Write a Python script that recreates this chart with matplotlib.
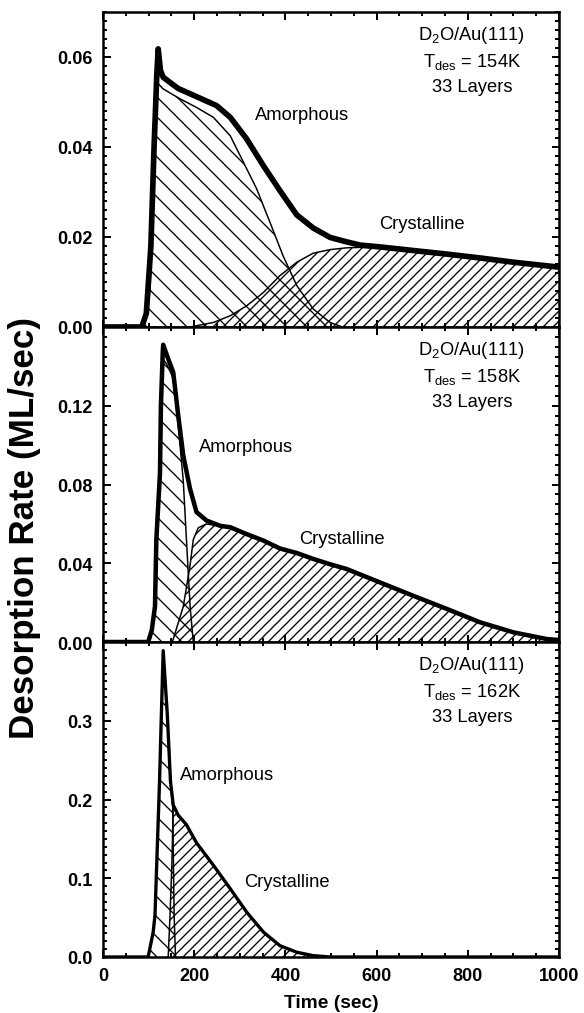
import matplotlib
matplotlib.use("Agg")
import matplotlib.pyplot as plt
from matplotlib.ticker import MultipleLocator, FormatStrFormatter

plt.rcParams['font.family'] = ['Liberation Sans', 'DejaVu Sans']
plt.rcParams['mathtext.fontset'] = 'custom'
plt.rcParams['mathtext.rm'] = 'Liberation Sans'
plt.rcParams['hatch.color'] = 'black'
plt.rcParams['hatch.linewidth'] = 0.8

# ---- panel 1: Tdes = 154K ----
t_tot1 = [0, 85, 95, 105, 112, 118, 121, 126, 132, 145, 165, 205, 249, 279, 315,
          352, 388, 425, 461, 498, 535, 564, 607, 680, 754, 830, 900, 1000]
v_tot1 = [0, 0, 0.003, 0.018, 0.040, 0.056, 0.0618, 0.057, 0.0555, 0.0545, 0.053,
          0.0512, 0.0492, 0.0466, 0.0418, 0.0358, 0.0303, 0.0249, 0.022, 0.0199,
          0.0189, 0.0182, 0.0178, 0.017, 0.0162, 0.0153, 0.0144, 0.0133]
t_am1 = [85, 95, 103, 110, 114, 117, 132, 169, 205, 242, 279, 308, 337, 366, 395,
         425, 461, 498, 525]
v_am1 = [0, 0.002, 0.008, 0.029, 0.044, 0.0545, 0.0529, 0.0507, 0.0488, 0.0466,
         0.0425, 0.0366, 0.0307, 0.0233, 0.0158, 0.0092, 0.004, 0.001, 0]
t_cr1 = [190, 242, 279, 315, 352, 388, 425, 461, 498, 535, 564, 607, 680, 754, 830,
         900, 1000]
v_cr1 = [0, 0.001, 0.0025, 0.0047, 0.0077, 0.0114, 0.0144, 0.0164, 0.0172, 0.0176,
         0.0177, 0.0176, 0.0169, 0.0161, 0.0152, 0.0143, 0.0132]

# ---- panel 2: Tdes = 158K ----
t_tot2 = [0, 99, 107, 114, 117, 125, 127, 131, 132, 143, 154, 165, 176, 191, 205,
          227, 257, 279, 315, 352, 388, 425, 461, 498, 534, 607, 680, 754, 827, 900,
          973, 1000]
v_tot2 = [0, 0, 0.006, 0.018, 0.052, 0.086, 0.12, 0.147, 0.151, 0.1438, 0.137,
          0.115, 0.0947, 0.0777, 0.066, 0.0617, 0.059, 0.0583, 0.0548, 0.0515,
          0.0475, 0.0452, 0.0422, 0.0395, 0.0371, 0.0303, 0.0235, 0.0168, 0.0100,
          0.0049, 0.0015, 0.001]
t_am2 = [99, 107, 114, 117, 125, 127, 131, 140, 154, 165, 176, 183, 191, 198]
v_am2 = [0, 0.006, 0.018, 0.052, 0.086, 0.12, 0.144, 0.141, 0.134, 0.11, 0.082,
         0.052, 0.018, 0]
t_cr2 = [152, 176, 191, 198, 209, 227, 257, 279, 315, 352, 388, 425, 461, 498, 534,
         607, 680, 754, 827, 900, 973, 1000]
v_cr2 = [0, 0.018, 0.039, 0.052, 0.058, 0.060, 0.0588, 0.0578, 0.0545, 0.0512,
         0.0473, 0.045, 0.042, 0.0393, 0.0369, 0.0301, 0.0233, 0.0166, 0.0099,
         0.0048, 0.0014, 0.0008]

# ---- panel 3: Tdes = 162K ----
t_tot3 = [0, 99, 110, 114, 119, 124, 128, 132, 141, 148, 154, 165, 183, 205, 242,
          279, 315, 352, 388, 425, 461, 498, 1000]
v_tot3 = [0, 0, 0.0315, 0.053, 0.138, 0.223, 0.308, 0.389, 0.308, 0.223, 0.193,
          0.18, 0.168, 0.145, 0.1166, 0.0868, 0.057, 0.0315, 0.0144, 0.006, 0.0017,
          0, 0]
t_am3 = [99, 110, 114, 119, 124, 128, 132, 141, 148, 153, 154, 156, 159]
v_am3 = [0, 0.0315, 0.053, 0.138, 0.223, 0.308, 0.385, 0.305, 0.22, 0.19, 0.138,
         0.053, 0]
t_cr3 = [143, 147, 151, 154, 165, 183, 205, 242, 279, 315, 352, 388, 425, 461, 498]
v_cr3 = [0, 0.053, 0.117, 0.193, 0.18, 0.168, 0.145, 0.1166, 0.0868, 0.057, 0.0315,
         0.0144, 0.006, 0.0017, 0]

temps = ['154K', '158K', '162K']
ymax = [0.07, 0.16, 0.4]
yticks = [[0.0, 0.02, 0.04, 0.06],
          [0.0, 0.04, 0.08, 0.12],
          [0.0, 0.1, 0.2, 0.3]]
yminor = [0.002, 0.005, 0.01]
yfmt = ['%.2f', '%.2f', '%.1f']
total_lw = [3.4, 2.7, 2.0]
# label positions (time, rate): amorphous, crystalline
am_pos = [(436, 0.0473), (313, 0.0993), (273, 0.2318)]
cr_pos = [(699, 0.0231), (523, 0.0526), (403, 0.0954)]

panels = [(t_tot1, v_tot1, t_am1, v_am1, t_cr1, v_cr1),
          (t_tot2, v_tot2, t_am2, v_am2, t_cr2, v_cr2),
          (t_tot3, v_tot3, t_am3, v_am3, t_cr3, v_cr3)]

fig = plt.figure(figsize=(584 / 120, 1014 / 120), dpi=120)
left, width, h = 103 / 584, 456 / 584, 315 / 1014
bottoms = [1 - 328 / 1014, 1 - 643 / 1014, 1 - 958 / 1014]

for i, (tt, vt, ta, va, tc, vc) in enumerate(panels):
    ax = fig.add_axes([left, bottoms[i], width, h])
    ax.fill_between(ta, va, 0, facecolor='none', edgecolor='black',
                    hatch='\\\\', linewidth=0)
    ax.fill_between(tc, vc, 0, facecolor='none', edgecolor='black',
                    hatch='////', linewidth=0)
    ax.plot(ta, va, color='black', lw=0.9)
    ax.plot(tc, vc, color='black', lw=0.9)
    ax.plot(tt, vt, color='black', lw=total_lw[i], solid_joinstyle='round')

    ax.set_xlim(0, 1000)
    ax.set_ylim(0, ymax[i])
    ax.xaxis.set_major_locator(MultipleLocator(200))
    ax.xaxis.set_minor_locator(MultipleLocator(50))
    ax.set_yticks(yticks[i])
    ax.yaxis.set_minor_locator(MultipleLocator(yminor[i]))
    ax.yaxis.set_major_formatter(FormatStrFormatter(yfmt[i]))
    ax.tick_params(which='both', direction='in', top=True, right=True,
                   width=1.2)
    ax.tick_params(which='major', length=4.5, labelsize=10.8, pad=6)
    ax.tick_params(which='minor', length=2.2)
    for lab in ax.get_yticklabels() + ax.get_xticklabels():
        lab.set_fontweight('bold')
    for sp in ax.spines.values():
        sp.set_linewidth(1.5)
    if i < 2:
        ax.tick_params(labelbottom=False)
    else:
        ax.set_xlabel('Time (sec)', fontsize=11.5, fontweight='bold', labelpad=6)

    ax.text(0.809, 0.93, r'D$_2$O/Au(111)', transform=ax.transAxes,
            ha='center', va='center', fontsize=11)
    ax.text(0.809, 0.845, r'T$_{\rm des}$ = ' + temps[i], transform=ax.transAxes,
            ha='center', va='center', fontsize=11)
    ax.text(0.809, 0.762, '33 Layers', transform=ax.transAxes,
            ha='center', va='center', fontsize=11)
    ax.text(am_pos[i][0], am_pos[i][1], 'Amorphous', ha='center', va='center',
            fontsize=11)
    ax.text(cr_pos[i][0], cr_pos[i][1], 'Crystalline', ha='center', va='center',
            fontsize=11)

fig.text(25 / 584, 1 - 528 / 1014, 'Desorption Rate (ML/sec)', rotation=90,
         ha='center', va='center', fontsize=21, fontweight='bold')

fig.savefig('out.png', dpi=120)
